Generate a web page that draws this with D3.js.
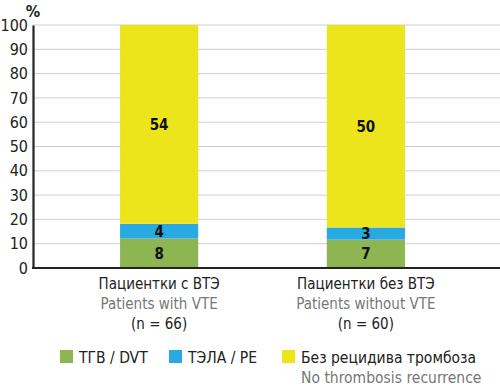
<!DOCTYPE html>
<html>
<head>
<meta charset="utf-8">
<script src="https://cdn.jsdelivr.net/npm/d3@7"></script>
<style>
  body { margin: 0; background: #fff; }
  svg text { font-family: "DejaVu Sans Condensed", "Liberation Sans Narrow", sans-serif; }
</style>
</head>
<body>
<div id="chart"></div>
<script>
// Data
var groupsRu = ["Пациентки с ВТЭ", "Пациентки без ВТЭ"];
var groupsEn = ["Patients with VTE", "Patients without VTE"];
var groupN = [66, 60];
var seriesKeys = ["dvt", "pe", "none"];
var dvtCounts = [8, 7];
var peCounts = [4, 3];
var noneCounts = [54, 50];
var yTicks = [0, 10, 20, 30, 40, 50, 60, 70, 80, 90, 100];
var legendRu = ["ТГВ / DVT", "ТЭЛА / PE", "Без рецидива тромбоза"];
var legendEn = ["", "", "No thrombosis recurrence"];
var colors = ["#8db653", "#28a9e1", "#ede51c"];

var width = 500, height = 388;
var margin = { top: 25, right: 0, bottom: 120, left: 33 };

var svg = d3.select("#chart").append("svg")
  .attr("width", width)
  .attr("height", height);

// rows: counts + percentages of n
var rows = groupsRu.map(function(g, i) {
  return {
    name: g, en: groupsEn[i], n: groupN[i],
    counts: { dvt: dvtCounts[i], pe: peCounts[i], none: noneCounts[i] },
    dvt: dvtCounts[i] / groupN[i] * 100,
    pe: peCounts[i] / groupN[i] * 100,
    none: noneCounts[i] / groupN[i] * 100
  };
});

var layers = d3.stack().keys(seriesKeys)(rows);

var x = d3.scaleBand()
  .domain(groupsRu)
  .range([margin.left, 492])
  .paddingInner(0.622)
  .paddingOuter(0.421);

var y = d3.scaleLinear()
  .domain([0, 100])
  .range([268, margin.top]);

var color = d3.scaleOrdinal().domain(seriesKeys).range(colors);

// gridlines
svg.append("g").selectAll("line")
  .data(yTicks.filter(function(t) { return t > 0; }))
  .enter().append("line")
  .attr("x1", margin.left).attr("x2", width)
  .attr("y1", function(d) { return y(d); })
  .attr("y2", function(d) { return y(d); })
  .attr("stroke", "#cfcfcf")
  .attr("stroke-width", 1);

// bars
var layer = svg.append("g").selectAll("g")
  .data(layers)
  .enter().append("g")
  .attr("fill", function(d) { return color(d.key); });

layer.selectAll("rect")
  .data(function(d) { return d; })
  .enter().append("rect")
  .attr("x", function(d) { return x(d.data.name); })
  .attr("width", x.bandwidth())
  .attr("y", function(d) { return y(d[1]); })
  .attr("height", function(d) { return y(d[0]) - y(d[1]); });

// value labels
layers.forEach(function(l) {
  svg.append("g").selectAll("text")
    .data(l)
    .enter().append("text")
    .attr("x", function(d) { return x(d.data.name) + x.bandwidth() / 2; })
    .attr("y", function(d) { return (y(d[0]) + y(d[1])) / 2; })
    .attr("dy", "0.36em")
    .attr("text-anchor", "middle")
    .attr("font-size", 15)
    .attr("font-weight", "bold")
    .attr("fill", "#111")
    .text(function(d) { return d.data.counts[l.key]; });
});

// y axis
var yAxis = svg.append("g")
  .attr("transform", "translate(" + margin.left + ",0)")
  .call(d3.axisLeft(y).tickValues(yTicks).tickSize(0).tickPadding(5));
yAxis.select(".domain").attr("stroke", "#222").attr("stroke-width", 2.2);
yAxis.selectAll("text").attr("font-size", 16).attr("fill", "#222")
  .style("font-family", "'DejaVu Sans Condensed', sans-serif");

svg.append("text")
  .attr("x", margin.left).attr("y", 17)
  .attr("text-anchor", "middle")
  .attr("font-size", 16).attr("font-weight", "bold")
  .attr("fill", "#222")
  .text("%");

// x axis line
svg.append("line")
  .attr("x1", margin.left - 1).attr("x2", width)
  .attr("y1", y(0)).attr("y2", y(0))
  .attr("stroke", "#222").attr("stroke-width", 2);

// category labels
var cat = svg.append("g").selectAll("g")
  .data(rows)
  .enter().append("g")
  .attr("transform", function(d) { return "translate(" + (x(d.name) + x.bandwidth() / 2) + ",0)"; })
  .attr("text-anchor", "middle")
  .attr("font-size", 15);
cat.append("text").attr("y", 289).attr("fill", "#222").text(function(d) { return d.name; });
cat.append("text").attr("y", 309).attr("fill", "#777").text(function(d) { return d.en; });
cat.append("text").attr("y", 329).attr("fill", "#222").text(function(d) { return "(n = " + d.n + ")"; });

// legend
var legendX = [60, 169, 282];
var legend = svg.append("g").selectAll("g")
  .data(seriesKeys)
  .enter().append("g")
  .attr("transform", function(d, i) { return "translate(" + legendX[i] + ",350)"; });
legend.append("rect")
  .attr("width", 13).attr("height", 13)
  .attr("fill", function(d) { return color(d); });
legend.append("text")
  .attr("x", 19).attr("y", 13)
  .attr("font-size", 15.5).attr("fill", "#222")
  .text(function(d, i) { return legendRu[i]; });
legend.append("text")
  .attr("x", 19).attr("y", 33)
  .attr("font-size", 15.5).attr("fill", "#777")
  .text(function(d, i) { return legendEn[i]; });
</script>
</body>
</html>
